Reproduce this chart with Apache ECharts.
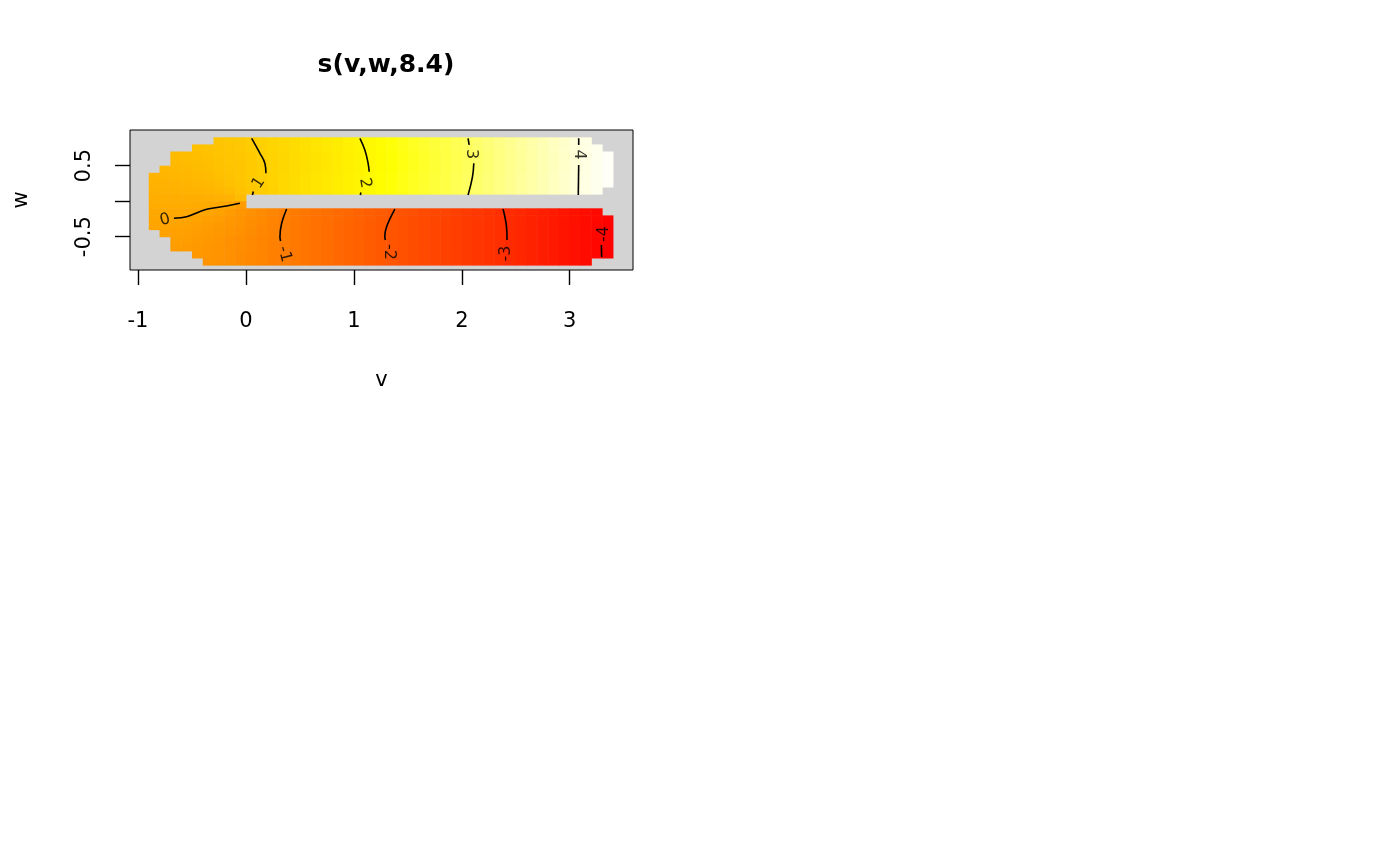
<!DOCTYPE html>
<html lang="en">
	<head>
		<meta charset="UTF-8">
		<title>s(v,w,8.4)</title>
		<style>
			html, body { margin: 0; padding: 0; background: #fff; }
		</style>
	</head>
	<body>
		<div id="main" style="width: 1400px;height:866px;"></div>

		<script type="text/javascript" src="https://cdn.jsdelivr.net/npm/echarts/dist/echarts.min.js"></script>
		<script type="text/javascript">
			var _ = null;

			// cell centres of the fitted grid
			var vCells = [-0.85, -0.75, -0.65, -0.55, -0.45, -0.35, -0.25, -0.15, -0.05,
				0.05, 0.15, 0.25, 0.35, 0.45, 0.55, 0.65, 0.75, 0.85, 0.95, 1.05, 1.15, 1.25,
				1.35, 1.45, 1.55, 1.65, 1.75, 1.85, 1.95, 2.05, 2.15, 2.25, 2.35, 2.45, 2.55,
				2.65, 2.75, 2.85, 2.95, 3.05, 3.15, 3.25, 3.35];
			var wCells = [0.85, 0.75, 0.65, 0.55, 0.45, 0.35, 0.25, 0.15, 0.05,
				-0.05, -0.15, -0.25, -0.35, -0.45, -0.55, -0.65, -0.75, -0.85];

			// fitted values along the arms, v = 0.35 ... 3.35
			var upperArm = [1.24, 1.34, 1.44, 1.55, 1.65, 1.75, 1.86, 1.96, 2.06, 2.16, 2.26, 2.37,
				2.47, 2.57, 2.67, 2.78, 2.88, 2.98, 3.08, 3.18, 3.28, 3.38, 3.48, 3.58, 3.68, 3.78,
				3.88, 3.98, 4.07, 4.16, 4.24];
			var upperArmMid = [1.21, 1.31, 1.41, 1.51, 1.61, 1.72, 1.82, 1.93, 2.03, 2.13, 2.23, 2.34,
				2.44, 2.54, 2.64, 2.75, 2.85, 2.95, 3.05, 3.15, 3.26, 3.36, 3.46, 3.56, 3.66, 3.76,
				3.86, 3.96, 4.06, 4.15, 4.23];
			var lowerArm = [-1.02, -1.12, -1.22, -1.32, -1.42, -1.52, -1.62, -1.72, -1.82, -1.92, -2.02,
				-2.11, -2.21, -2.30, -2.39, -2.49, -2.58, -2.67, -2.77, -2.86, -2.95, -3.05, -3.16,
				-3.27, -3.38, -3.49, -3.60, -3.71, -3.82, -3.93, -4.04];
			var lowerArmTop = [-0.95, -1.06, -1.16, -1.26, -1.36, -1.46, -1.56, -1.66, -1.76, -1.86,
				-1.96, -2.06, -2.16, -2.26, -2.35, -2.45, -2.55, -2.65, -2.74, -2.84, -2.93, -3.02,
				-3.12, -3.23, -3.34, -3.45, -3.57, -3.68, -3.79, -3.90];
			var lowerArmNear = [-0.98, -1.09, -1.19, -1.29, -1.39, -1.49, -1.59, -1.69, -1.79, -1.89,
				-1.99, -2.09, -2.19, -2.28, -2.37, -2.47, -2.56, -2.66, -2.75, -2.85, -2.94, -3.03,
				-3.14, -3.25, -3.36, -3.47, -3.58, -3.69, -3.80, -3.91, -4.02];

			// one row per wCells entry, one value per vCells entry (v = -0.85 ... 0.25 typed here)
			var fitRows = [
				[_, _, _, _, _, _, 0.76, 0.81, 0.86, 0.97, 1.07, 1.16].concat(upperArm.slice(0, 29), [_, _]),
				[_, _, _, _, 0.64, 0.69, 0.74, 0.80, 0.85, 0.95, 1.05, 1.15].concat(upperArm.slice(0, 30), [_]),
				[_, _, 0.53, 0.57, 0.61, 0.66, 0.72, 0.79, 0.82, 0.92, 1.01, 1.11].concat(upperArmMid),
				[_, _, 0.49, 0.53, 0.57, 0.63, 0.69, 0.77, 0.80, 0.90, 1.00, 1.10].concat(upperArmMid),
				[_, 0.41, 0.44, 0.48, 0.53, 0.58, 0.66, 0.74, 0.79, 0.90, 1.00, 1.11].concat(upperArmMid),
				[0.34, 0.36, 0.39, 0.43, 0.47, 0.53, 0.60, 0.70, 0.77, 0.88, 0.99, 1.10].concat(upperArm),
				[0.29, 0.31, 0.33, 0.36, 0.40, 0.45, 0.53, 0.64, 0.73, 0.85, 0.97, 1.09].concat(upperArm),
				[0.24, 0.25, 0.27, 0.29, 0.31, 0.35, 0.41, 0.53, 0.68, 0.81, 0.94, 1.07].concat(upperArm.slice(0, 30), [_]),
				[0.19, 0.19, 0.20, 0.20, 0.21, 0.23, 0.25, 0.31, 0.53],
				[0.13, 0.13, 0.13, 0.12, 0.11, 0.10, 0.07, 0.01, -0.23],
				[0.08, 0.07, 0.06, 0.04, 0.01, -0.03, -0.10, -0.23, -0.40, -0.52, -0.66, -0.80].concat(lowerArmTop, [_]),
				[0.03, 0.01, -0.01, -0.04, -0.08, -0.14, -0.23, -0.36, -0.45, -0.57, -0.70, -0.83].concat(lowerArmNear),
				[-0.02, -0.05, -0.08, -0.12, -0.17, -0.23, -0.32, -0.43, -0.50, -0.61, -0.73, -0.86].concat(lowerArm),
				[_, -0.10, -0.14, -0.18, -0.23, -0.30, -0.38, -0.48, -0.55, -0.66, -0.78, -0.90].concat(lowerArm),
				[_, _, -0.19, -0.23, -0.28, -0.35, -0.42, -0.51, -0.62, -0.72, -0.82, -0.92].concat(lowerArm),
				[_, _, -0.23, -0.28, -0.33, -0.39, -0.45, -0.53, -0.62, -0.72, -0.82, -0.92].concat(lowerArm),
				[_, _, _, _, -0.36, -0.42, -0.48, -0.54, -0.63, -0.73, -0.83, -0.93].concat(lowerArm),
				[_, _, _, _, _, -0.44, -0.50, -0.55, -0.64, -0.74, -0.84, -0.94].concat(lowerArm.slice(0, 29), [_, _])
			];

			// contour lines, [v, w]
			var contourPaths = [
				[[-0.667, -0.241], [-0.549, -0.218], [-0.364, -0.114], [-0.179, -0.068], [-0.056, -0.030]],
				[[0.053, 0.886], [0.130, 0.675], [0.176, 0.532], [0.185, 0.393]],
				[[0.069, 0.137], [0.060, 0.087]],
				[[1.056, 0.886], [1.102, 0.721], [1.132, 0.534], [1.142, 0.415]],
				[[1.065, 0.123], [1.060, 0.087]],
				[[2.058, 0.886], [2.068, 0.792]],
				[[2.111, 0.534], [2.099, 0.345], [2.058, 0.087]],
				[[3.083, 0.886], [3.083, 0.792]],
				[[3.083, 0.510], [3.079, 0.087]],
				[[0.377, -0.110], [0.331, -0.311], [0.315, -0.500], [0.321, -0.561]],
				[[1.380, -0.110], [1.303, -0.359], [1.287, -0.500], [1.292, -0.546]],
				[[2.382, -0.110], [2.414, -0.359], [2.419, -0.546]],
				[[3.293, -0.617], [3.296, -0.786]]
			];
			var contourLevels = ['0', '1', '2', '3', '4', '-1', '-2', '-3', '-4'];
			var contourLabelAt = [[-0.75, -0.265], [0.120, 0.256], [1.102, 0.256], [2.083, 0.665],
				[3.083, 0.658], [0.356, -0.744], [1.324, -0.715], [2.412, -0.737], [3.319, -0.462]];
			var contourLabelTurn = [15, 57, -80, -90, -90, -75, -90, 90, 90];

			var vTicks = [-1, 0, 1, 2, 3];
			var wTicks = [-0.5, 0, 0.5];
			var wTickLabels = [-0.5, 0.5];

			var halfV = (vCells[1] - vCells[0]) / 2;
			var halfW = (wCells[0] - wCells[1]) / 2;

			var cells = [];
			fitRows.forEach(function (row, r) {
				row.forEach(function (val, i) {
					if (val !== null) {
						cells.push([vCells[i], wCells[r], val]);
					}
				});
			});

			var font = 'DejaVu Sans';
			var myChart = echarts.init(document.getElementById('main'));

			var series = [{
				type: 'custom',
				dimensions: ['v', 'w', 'fit'],
				encode: { x: 0, y: 1 },
				renderItem: function (params, api) {
					var a = api.coord([api.value(0) - halfV, api.value(1) + halfW]);
					var b = api.coord([api.value(0) + halfV, api.value(1) - halfW]);
					return {
						type: 'rect',
						shape: { x: a[0], y: a[1], width: b[0] - a[0] + 0.5, height: b[1] - a[1] + 0.5 },
						style: { fill: api.visual('color') }
					};
				},
				data: cells,
				silent: true
			}];

			contourPaths.forEach(function (path) {
				series.push({
					type: 'line',
					data: path,
					smooth: 0.4,
					showSymbol: false,
					symbol: 'none',
					clip: false,
					silent: true,
					lineStyle: { color: '#000', width: 1.6 },
					z: 3
				});
			});

			series.push({
				type: 'scatter',
				symbolSize: 0,
				silent: true,
				z: 4,
				data: contourLevels.map(function (lev, k) {
					return { name: lev, value: contourLabelAt[k], label: { rotate: contourLabelTurn[k] } };
				}),
				label: {
					show: true,
					position: 'inside',
					formatter: '{b}',
					color: '#000',
					fontFamily: font,
					fontSize: 16,
					align: 'center',
					verticalAlign: 'middle'
				}
			});

			var option = {
				animation: false,
				backgroundColor: '#fff',
				title: {
					text: 's(v,w,8.4)',
					left: 381,
					top: 48,
					textAlign: 'center',
					textStyle: { fontFamily: font, fontSize: 25, fontWeight: 'bold', color: '#000' }
				},
				grid: {
					left: 130, top: 130, width: 503, height: 140,
					show: true,
					backgroundColor: '#d3d3d3',
					borderColor: '#000',
					borderWidth: 1
				},
				visualMap: {
					show: false,
					type: 'continuous',
					seriesIndex: 0,
					dimension: 2,
					min: -4.1,
					max: 4.3,
					inRange: { color: ['#ff0000', '#ff5500', '#ffaa00', '#ffff00', '#ffffff'] }
				},
				xAxis: {
					type: 'value',
					min: -1.074,
					max: 3.586,
					name: 'v',
					nameLocation: 'middle',
					nameGap: 100,
					nameTextStyle: { fontFamily: font, fontSize: 21, color: '#000' },
					axisLine: { show: false, onZero: false },
					axisTick: { show: true, customValues: vTicks, length: 15, lineStyle: { color: '#000', width: 1.4 } },
					axisLabel: { customValues: vTicks, margin: 41, fontFamily: font, fontSize: 21, color: '#000' },
					splitLine: { show: false }
				},
				yAxis: {
					type: 'value',
					min: -0.969,
					max: 1.003,
					name: 'w',
					nameLocation: 'middle',
					nameRotate: 90,
					nameGap: 98,
					nameTextStyle: { fontFamily: font, fontSize: 21, color: '#000' },
					axisLine: { show: false, onZero: false },
					axisTick: { show: true, customValues: wTicks, length: 15, lineStyle: { color: '#000', width: 1.4 } },
					axisLabel: { customValues: wTickLabels, rotate: 90, margin: 35, fontFamily: font, fontSize: 21, color: '#000' },
					splitLine: { show: false }
				},
				series: series
			};

			myChart.setOption(option);
		</script>
	</body>
</html>
